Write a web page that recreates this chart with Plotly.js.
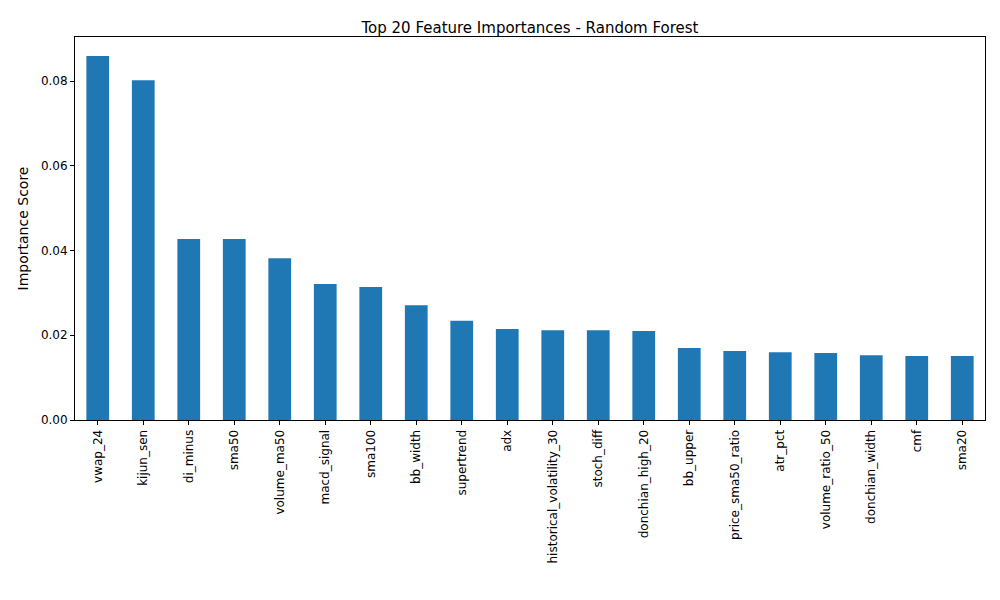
<!DOCTYPE html>
<html><head><meta charset="utf-8">
<script src="https://cdn.plot.ly/plotly-3.0.1.min.js"></script>
<style>body{margin:0}#chart{width:1000px;height:600px}</style>
</head><body><div id="chart"></div>
<script>
var features = ['vwap_24','kijun_sen','di_minus','sma50','volume_ma50','macd_signal','sma100','bb_width','supertrend','adx','historical_volatility_30','stoch_diff','donchian_high_20','bb_upper','price_sma50_ratio','atr_pct','volume_ratio_50','donchian_width','cmf','sma20'];
var importances = [0.0859,0.0802,0.0427,0.0427,0.0382,0.0321,0.0314,0.0271,0.0234,0.0215,0.0212,0.0212,0.0210,0.0170,0.0163,0.0160,0.0158,0.0153,0.0151,0.0151];
var yTicks = [0,0.02,0.04,0.06,0.08];

var ax = {showline:true, mirror:true, linecolor:'black', linewidth:1, ticks:'outside', ticklen:4, tickcolor:'black', showgrid:false, zeroline:false};
Plotly.newPlot('chart', [{
  type:'bar', x:features.map(function(f,i){return i;}), y:importances,
  width:0.5, marker:{color:'#1f77b4'}
}], {
  width:1000, height:600,
  margin:{l:75, r:15, t:37, b:180},
  font:{family:'DejaVu Sans', size:12, color:'black'},
  title:{text:'Top 20 Feature Importances - Random Forest', font:{size:15}, x:0.53, y:0.962, xanchor:'center'},
  xaxis:Object.assign({}, ax, {range:[-0.5,19.5], tickmode:'array', tickvals:features.map(function(f,i){return i;}), ticktext:features, tickangle:-90}),
  yaxis:Object.assign({}, ax, {range:[0,0.0904], tickmode:'array', tickvals:yTicks, ticktext:yTicks.map(function(v){return v.toFixed(2);}), title:{text:'Importance Score', standoff:8}}),
  plot_bgcolor:'white', paper_bgcolor:'white', showlegend:false
}, {displayModeBar:false});
</script></body></html>
